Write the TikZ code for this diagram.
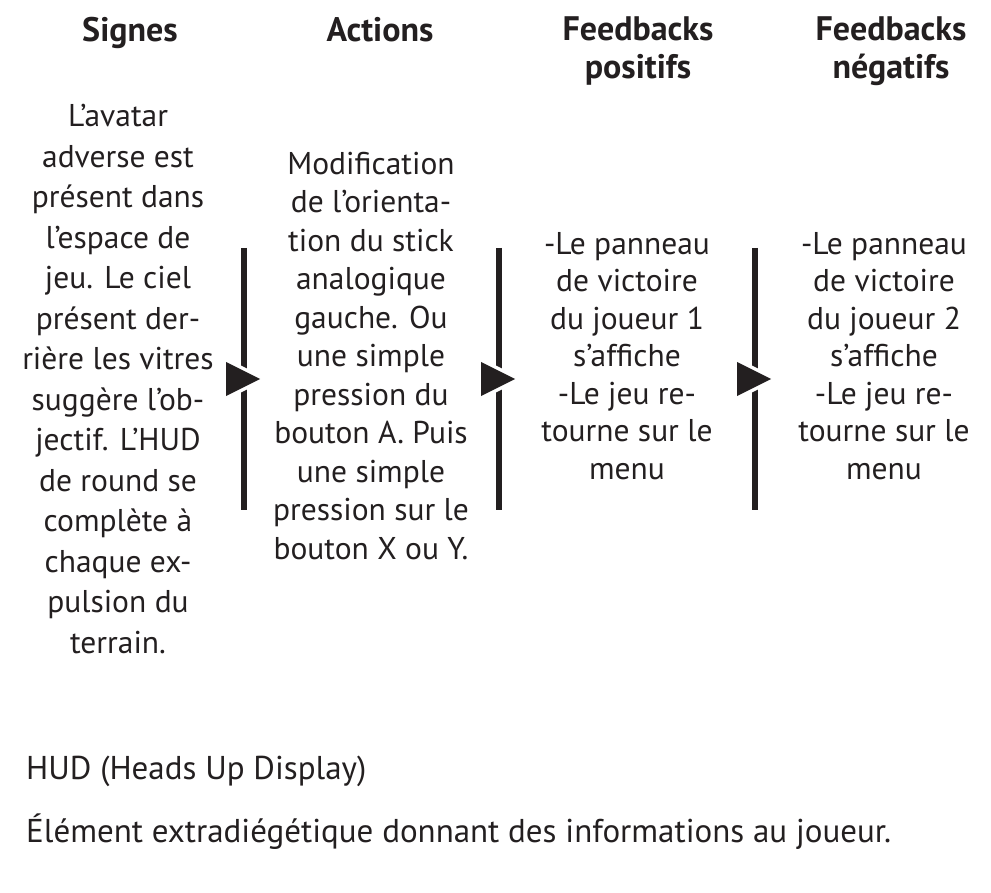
\documentclass[tikz,border=0pt]{standalone}
\usepackage{fontspec}
\setmainfont{PT Sans}
\definecolor{ink}{HTML}{231F20}
\begin{document}
\begin{tikzpicture}[x=1pt,y=-1pt,
  title/.style={font=\fontsize{34}{38}\selectfont\bfseries,text=ink,align=center,anchor=north,inner sep=0pt},
  body/.style={font=\fontsize{31.5}{39}\selectfont,text=ink,align=center,inner sep=0pt},
  note/.style={font=\fontsize{33}{39}\selectfont,text=ink,anchor=west,inner sep=0pt},
  bar/.style={ink,line width=5.5pt},
  gap/.style={draw=white,fill=white,line width=7pt,line join=miter},
  tip/.style={fill=ink}]
  \useasboundingbox (0,0) rectangle (991,893);
  % column titles
  \node[title] (tsignes) at (130,17) {Signes};
  \node[title] (tactions) at (380,17) {Actions};
  \node[title] (tpos) at (638,17) {Feedbacks\\positifs};
  \node[title] (tneg) at (891,17) {Feedbacks\\négatifs};
  % column texts
  \node[body,font=\fontsize{31.5}{40.5}\selectfont] (signes) at (118,379) {L’avatar\\adverse est\\présent dans\\l’espace de\\jeu. Le ciel\\présent der-\\rière les vitres\\suggère l’ob-\\jectif. L’HUD\\de round se\\complète à\\chaque ex-\\pulsion du\\terrain.};
  \node[body,font=\fontsize{31.5}{38.5}\selectfont] (actions) at (371,356) {Modification\\de l’orienta-\\tion du stick\\analogique\\gauche. Ou\\une simple\\pression du\\bouton A. Puis\\une simple\\pression sur le\\bouton X ou Y.};
  \node[body,font=\fontsize{31.5}{37.5}\selectfont] (pos) at (627,356) {-Le panneau\\de victoire\\du joueur 1\\s’affiche\\-Le jeu re-\\tourne sur le\\menu};
  \node[body,font=\fontsize{31.5}{37.5}\selectfont] (neg) at (884,356) {-Le panneau\\de victoire\\du joueur 2\\s’affiche\\-Le jeu re-\\tourne sur le\\menu};
  % separators with arrow
  \foreach \x/\n in {244/sepa,499/sepb,755/sepc}{
    \coordinate (\n top) at (\x,248);
    \coordinate (\n bot) at (\x,510);
    \draw[bar] (\n top) -- (\n bot);
    \filldraw[gap] (\x-18,362) -- (\x+16,379) -- (\x-18,396) -- cycle;
    \fill[tip] (\x-18,362) -- (\x+16,379) -- (\x-18,396) -- cycle;
  }
  % footnote
  \node[note] (hud) at (26,771) {HUD (Heads Up Display)};
  \node[note] (def) at (26,832) {Élément extradiégétique donnant des informations au joueur.};
\end{tikzpicture}
\end{document}
